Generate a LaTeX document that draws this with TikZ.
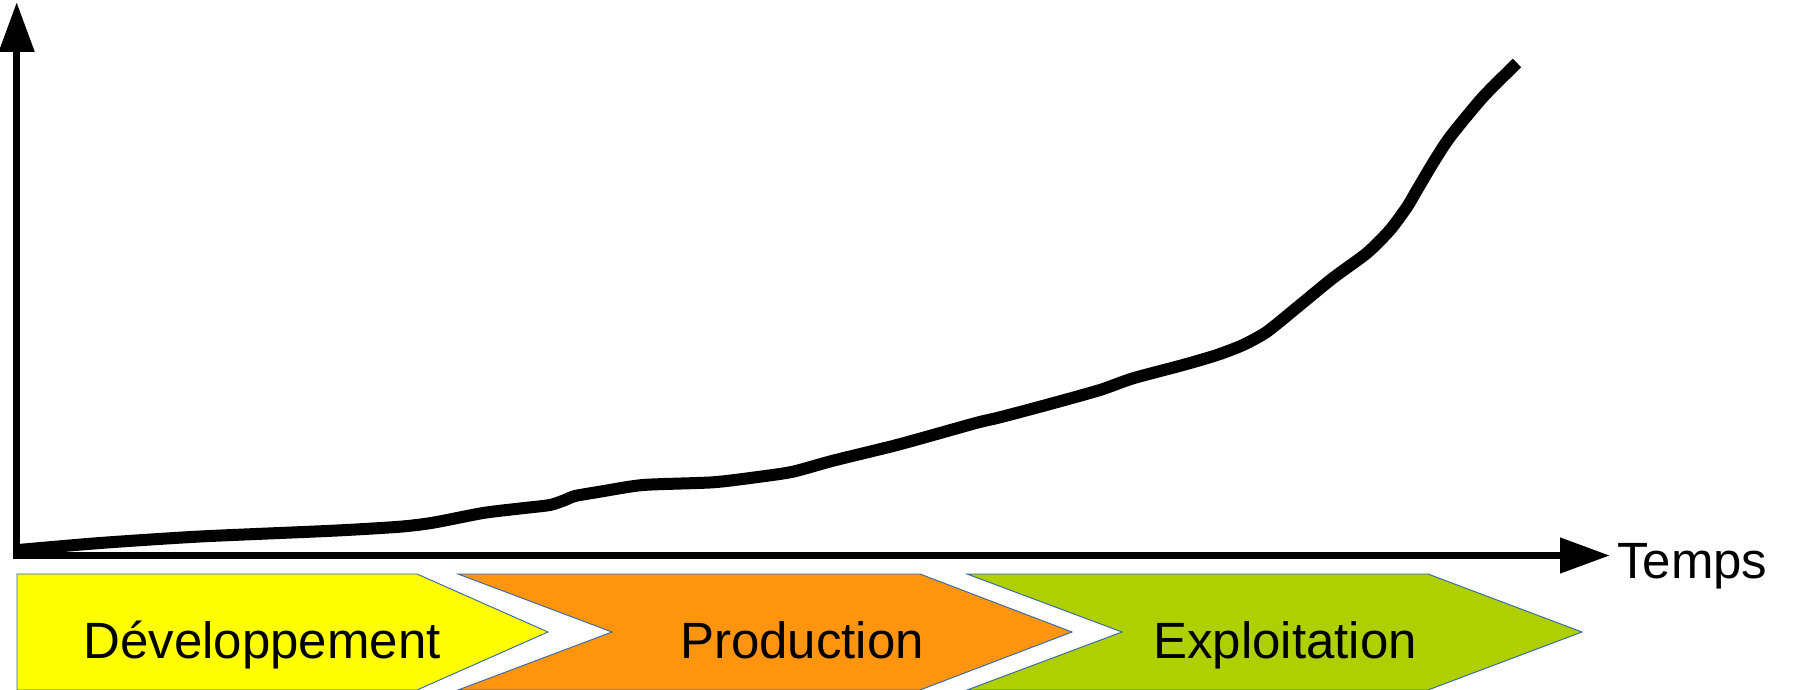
\documentclass[tikz,border=0pt]{standalone}
\usepackage{fontspec}
\setmainfont{Liberation Sans}
\usetikzlibrary{arrows.meta}
\definecolor{cyellow}{HTML}{FFFF00}
\definecolor{corange}{HTML}{FF950E}
\definecolor{cgreen}{HTML}{AECF00}
\definecolor{cborder}{HTML}{3465A4}
\begin{document}
\begin{tikzpicture}[x=1pt,y=-1pt,
  axisarrow/.style={line width=7.5pt, -{Triangle[length=50pt,width=34pt]}},
  phasebox/.style={draw=cborder, line width=0.9pt, line join=miter},
  phaselabel/.style={inner sep=0pt, font=\fontsize{51}{60}\selectfont, anchor=base},
  courbe/.style={line width=12pt, line join=round}]
\clip (0,0) rectangle (1798,690);
\fill[white] (0,0) rectangle (1798,690);
% phases
\filldraw[phasebox, fill=cyellow] (17,574) -- (417,574) -- (548,632) -- (417,690) -- (17,690) -- cycle;
\filldraw[phasebox, fill=corange] (458,574) -- (920,574) -- (1072,632) -- (920,690) -- (458,690) -- (612,632) -- cycle;
\filldraw[phasebox, fill=cgreen] (967,574) -- (1428,574) -- (1582,632) -- (1428,690) -- (967,690) -- (1122,632) -- cycle;
\node[phaselabel] (dev) at (262,658) {Développement};
\node[phaselabel] (prod) at (802,658) {Production};
\node[phaselabel] (expl) at (1285,658) {Exploitation};
% axes
\coordinate (ystart) at (16.7,559);
\coordinate (ytip) at (16.7,2);
\coordinate (xstart) at (13,555.5);
\coordinate (xtip) at (1610,555.5);
\draw[axisarrow] (ystart) -- (ytip);
\draw[axisarrow] (xstart) -- (xtip);
\node[phaselabel, anchor=base west] (temps) at (1617,578) {Temps};
% curve
\draw[courbe] plot[smooth, tension=0.4] coordinates {
 (18,550) (100,543) (200,536.5) (333,530.7) (400,526.7) (433,522.7) (483,513)
 (520,508.5) (550,505) (565,500) (575,496) (600,491.7) (643,485) (713,482.3)
 (760,476.7) (793,471.7) (833,460.7) (893,446) (927,436.7) (977,422.7) (1000,417.3)
 (1050,404) (1100,390) (1133,378.3) (1183,365) (1217,355) (1243,345) (1267,331.7)
 (1300,305) (1333,278) (1367,253) (1390,230) (1407,207) (1417,190) (1433,163)
 (1450,137) (1483,97) (1517,63)};
\end{tikzpicture}
\end{document}
